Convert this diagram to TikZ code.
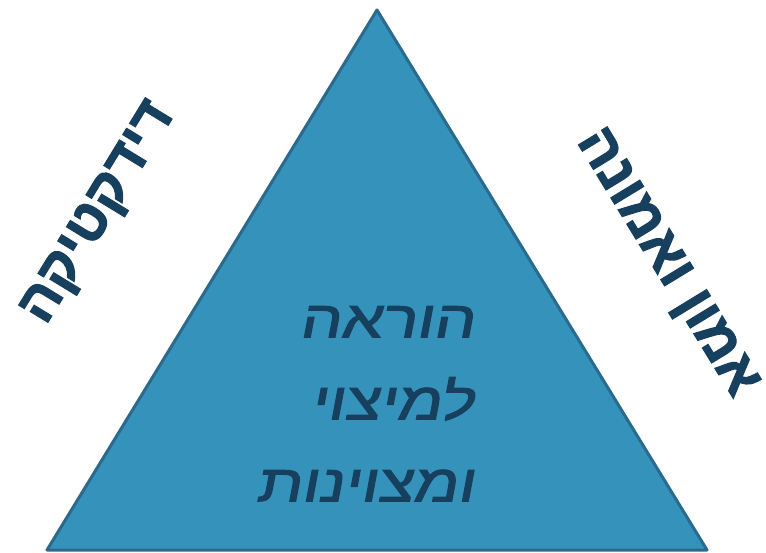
\documentclass[tikz,border=0pt]{standalone}
\usepackage{fontspec}
\usepackage{xcolor}
\usepackage{tikz}
\TeXXeTstate=1
\newfontfamily\hebfont[Script=Hebrew,FakeBold=2]{Liberation Sans Bold}
\newfontfamily\handfont[Script=Hebrew,FakeSlant=0.15,FakeBold=1.8]{Liberation Sans}
\definecolor{triblue}{HTML}{3592BA}
\definecolor{triedge}{HTML}{2A6A8C}
\definecolor{navyx}{HTML}{17405F}
\tikzset{
  side/.style={text=navyx,font=\hebfont\fontsize{56}{60}\selectfont,inner sep=0pt},
  core/.style={text=navyx,font=\handfont\fontsize{52}{82}\selectfont,align=right,inner sep=0pt,xscale=1.25,transform shape}
}
\begin{document}
\begin{tikzpicture}[x=1pt,y=-1pt]
\useasboundingbox (0,0) rectangle (766,553);
\coordinate (top) at (377,10);
\coordinate (bl) at (47,550);
\coordinate (br) at (707,550);
\draw[triedge,line width=3pt,fill=triblue,line join=round] (top)--(bl)--(br)--cycle;
% the three texts
\node[side,rotate=58.6] (didactic) at (100,214) {\beginR דידקטיקה\endR};
\node[side,rotate=-58.6] (trust) at (665,264) {\beginR אמון ואמונה\endR};
\node[core,anchor=north east] (teach) at (474,306) {\beginR הוראה\endR\\\beginR למיצוי\endR\\\beginR ומצוינות\endR};
\end{tikzpicture}
\end{document}
